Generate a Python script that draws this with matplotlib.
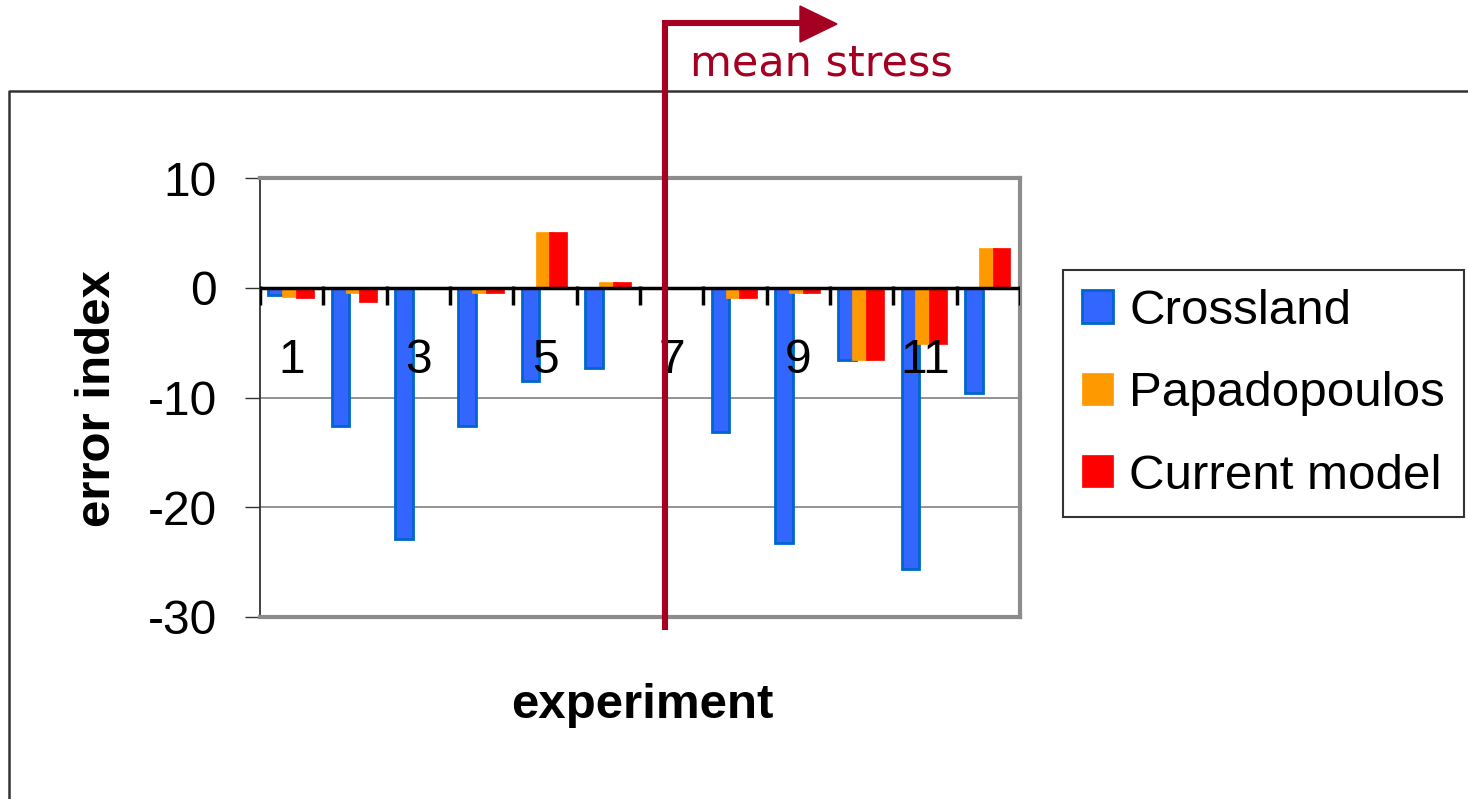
import numpy as np
import matplotlib
matplotlib.use("Agg")
import matplotlib.pyplot as plt
from matplotlib.lines import Line2D
from matplotlib.patches import Polygon

plt.rcParams['font.family'] = ['Liberation Sans', 'DejaVu Sans']

# ---- data ----
experiments = list(range(1, 13))
crossland = [-0.7, -12.6, -22.9, -12.6, -8.5, -7.3, 0.0, -13.1, -23.3, -6.6, -25.6, -9.6]
papadopoulos = [-0.8, -0.5, 0.0, -0.5, 5.1, 0.5, 0.0, -0.9, -0.5, -6.6, -5.1, 3.6]
current_model = [-0.9, -1.3, 0.0, -0.5, 5.1, 0.5, 0.0, -0.9, -0.5, -6.6, -5.1, 3.6]
series_names = ['Crossland', 'Papadopoulos', 'Current model']
y_ticks = [10, 0, -10, -20, -30]

W, H = 1468, 799
fig = plt.figure(figsize=(W / 100, H / 100), dpi=100)
ax = fig.add_axes([260 / W, 1 - 617 / H, 760 / W, 439 / H])

x = np.arange(len(experiments))
bw = 0.28
b1 = ax.bar(x - 0.23, crossland, bw, color='#3366FF', edgecolor='#0066CC', linewidth=2, zorder=3)
b2 = ax.bar(x - 0.01, papadopoulos, bw, color='#FF9900', edgecolor='#FF9900', linewidth=0.5, zorder=3)
b3 = ax.bar(x + 0.21, current_model, bw, color='#FF0000', edgecolor='#FF0000', linewidth=0.5, zorder=3)

ax.set_xlim(-0.5, len(experiments) - 0.5)
ax.set_ylim(-30, 10)
ax.set_yticks(y_ticks)
ax.set_yticklabels([str(v) for v in y_ticks])
ax.tick_params(axis='y', direction='out', length=11, width=1, pad=20, labelsize=34.5, color='#333333')
ax.tick_params(axis='x', bottom=False, labelbottom=False)
ax.yaxis.grid(True, color='#808080', linewidth=1.2, zorder=0)
ax.set_axisbelow(True)

for s in ['top', 'right', 'bottom']:
    ax.spines[s].set_color('#8c8c8c')
    ax.spines[s].set_linewidth(3)
ax.spines['left'].set_color('#333333')
ax.spines['left'].set_linewidth(1.3)

# zero axis with category tick marks
ax.axhline(0, color='black', linewidth=2.5, zorder=4)
ax.vlines(np.arange(len(experiments) + 1) - 0.5, -1.6, 0.15, color='black', linewidth=2.5, zorder=4)

# category labels (every other)
for i, e in enumerate(experiments):
    if e % 2 == 1:
        ax.text(i, -6.6, str(e), ha='center', va='center', fontsize=34.5, zorder=5)

# axis titles
fig.text(98 / W, 1 - 399 / H, 'error index', rotation=90, ha='center', va='center',
         fontsize=35.5, fontweight='bold')
fig.text(642 / W, 1 - 705 / H, 'experiment', ha='center', va='center',
         fontsize=35.5, fontweight='bold')

# chart area border (top & left)
fig.add_artist(Line2D([9 / W, 9 / W, 1.0], [0.0, 1 - 91 / H, 1 - 91 / H],
                      transform=fig.transFigure, color='#333333', linewidth=1.8))

# legend
leg = fig.legend([b1, b2, b3], series_names, loc='upper left',
                 bbox_to_anchor=(1063 / W, 1 - 270 / H), borderaxespad=0,
                 fontsize=35.5, handlelength=0.63, handleheight=0.63, handletextpad=0.33,
                 labelspacing=0.76, borderpad=0.38, fancybox=False, framealpha=1)
leg.get_frame().set_edgecolor('#333333')
leg.get_frame().set_linewidth(1.5)

# mean stress arrow
dark_red = '#A50021'
fig.add_artist(Line2D([665 / W, 665 / W, 802 / W], [1 - 630 / H, 1 - 23 / H, 1 - 23 / H],
                      transform=fig.transFigure, color=dark_red, linewidth=4.4,
                      solid_joinstyle='miter', solid_capstyle='butt', zorder=10))
fig.add_artist(Polygon([[800 / W, 1 - 6 / H], [837 / W, 1 - 24 / H], [800 / W, 1 - 42 / H]],
                       closed=True, transform=fig.transFigure, color=dark_red, zorder=10))
fig.text(690 / W, 1 - 75 / H, 'mean stress', ha='left', va='baseline', fontsize=31,
         color=dark_red, family='DejaVu Sans')

fig.savefig('out.png', dpi=100)
